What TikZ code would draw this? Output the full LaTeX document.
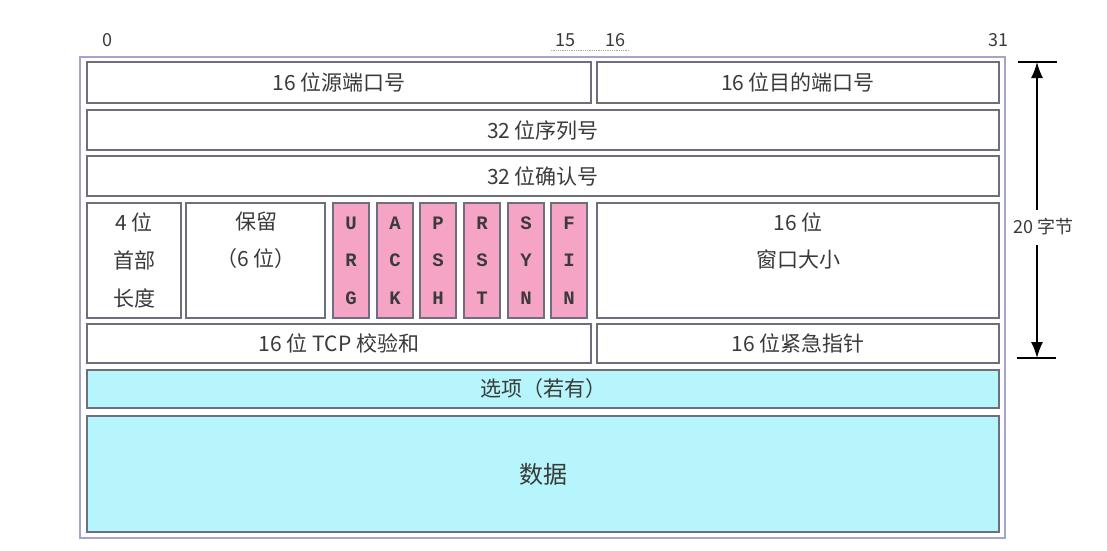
\documentclass[tikz,border=0pt]{standalone}
\usepackage{fontspec}
\setmainfont{Noto Sans CJK SC}
\newfontfamily\flagfont{Liberation Mono}
\usetikzlibrary{arrows.meta}
\definecolor{boxc}{HTML}{6E6E80}
\definecolor{framec}{HTML}{A4A4CC}
\definecolor{txtc}{HTML}{3A3A3A}
\definecolor{pinkc}{HTML}{F6A4C6}
\definecolor{cyanc}{HTML}{B6F5FB}
\begin{document}
\begin{tikzpicture}[x=1pt,y=-1pt,
  field/.style={draw=boxc, line width=1.3pt, fill=white, inner sep=0pt, text=txtc,
    font=\fontsize{21}{38}\selectfont, align=center},
  fieldtext/.style={text=txtc, inner sep=0pt, font=\fontsize{21}{37}\selectfont, align=center},
  flagbox/.style={field, fill=pinkc, minimum width=36pt, minimum height=115pt,
    font=\flagfont\bfseries\fontsize{19}{37.5}\selectfont},
  cyanbox/.style={field, fill=cyanc},
  numlbl/.style={text=txtc, font=\fontsize{18}{20}\selectfont, inner sep=0pt},
  dimarrow/.style={line width=1.5pt, -{Latex[length=16pt,width=12pt]}}]
\useasboundingbox (0,0) rectangle (1107,550);
% outer frame
\node[draw=framec, line width=2pt, fill=white, minimum width=925pt, minimum height=481pt, inner sep=0pt] (frame) at (542.5,297.5) {};
% bit numbers
\node[numlbl] (b0) at (107,40) {0};
\node[numlbl] (b15) at (565,40) {15};
\node[numlbl] (b16) at (615,40) {16};
\node[numlbl] (b31) at (998,40) {31};
\draw[densely dotted, boxc!60, line width=0.8pt] (b15.south west) ++(-4,4) coordinate (d1) -- ++(78,0) coordinate (d2);
% row 1
\node[field, minimum width=504pt, minimum height=41pt] (src) at (339,82.5) {16 位源端口号};
\node[field, minimum width=402pt, minimum height=41pt] (dst) at (798,82.5) {16 位目的端口号};
% row 2,3
\node[field, minimum width=912pt, minimum height=40pt] (seq) at (543,130) {32 位序列号};
\node[field, minimum width=912pt, minimum height=40pt] (ackn) at (543,176) {32 位确认号};
% row 4
\node[field, minimum width=94pt, minimum height=115pt] (hlen) at (134,260.5) {4 位\\首部\\长度};
\node[field, minimum width=139pt, minimum height=115pt] (res) at (255.5,260.5) {};
\node[fieldtext] (restxt) at (256,240.5) {保留\\（6 位）};
\node[flagbox] (urg) at (351,260.5) {U\\R\\G};
\node[flagbox] (ack) at (395,260.5) {A\\C\\K};
\node[flagbox] (psh) at (438,260.5) {P\\S\\H};
\node[flagbox] (rst) at (482,260.5) {R\\S\\T};
\node[flagbox] (syn) at (526,260.5) {S\\Y\\N};
\node[flagbox] (fin) at (569,260.5) {F\\I\\N};
\node[field, minimum width=402pt, minimum height=115pt] (win) at (798,260.5) {};
\node[fieldtext] (wintxt) at (798,240.5) {16 位\\窗口大小};
% row 5
\node[field, minimum width=504pt, minimum height=39pt] (chk) at (339,343.5) {16 位 TCP 校验和};
\node[field, minimum width=402pt, minimum height=39pt] (urgp) at (798,343.5) {16 位紧急指针};
% options & data
\node[cyanbox, minimum width=912pt, minimum height=38pt] (opt) at (543,389) {选项（若有）};
\node[cyanbox, minimum width=912pt, minimum height=116pt, font=\fontsize{24}{28}\selectfont] (data) at (543,474) {数据};
% 20 bytes dimension
\coordinate (topbar) at (1037,62);
\coordinate (botbar) at (1037,358);
\draw[line width=1.5pt] (1018,62) -- (1057,62);
\draw[line width=1.5pt] (1017,358) -- (1056,358);
\node[numlbl, font=\fontsize{18}{20}\selectfont] (bytes) at (1043,227) {20 字节};
\draw[dimarrow] (1037,210) -- (topbar);
\draw[dimarrow] (1037,245) -- (botbar);
\end{tikzpicture}
\end{document}
